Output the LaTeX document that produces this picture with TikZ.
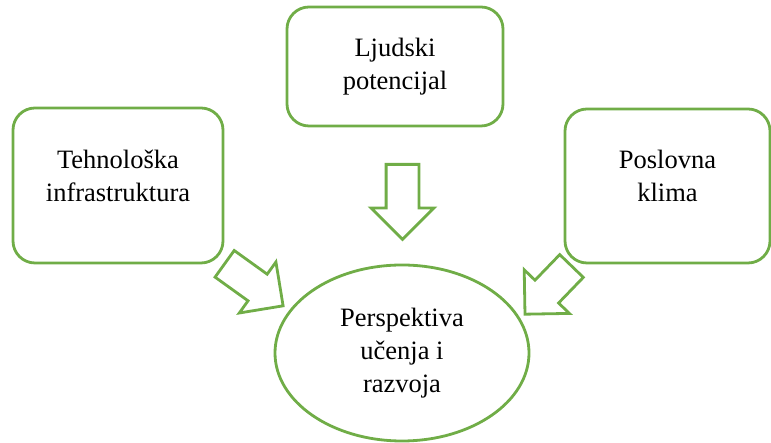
\documentclass[tikz,border=0pt]{standalone}
\definecolor{bscgreen}{RGB}{112,173,71}
\usepackage{fontspec}
\setmainfont{Liberation Serif}
\usetikzlibrary{shapes.arrows,shapes.geometric}

\begin{document}
\begin{tikzpicture}[x=1pt,y=1pt]

%
% Styles
%
\tikzstyle{area}   = [rectangle,rounded corners=22pt,draw=bscgreen,line width=2.8pt,fill=white,inner sep=0pt]
\tikzstyle{goal}   = [ellipse,draw=bscgreen,line width=2.8pt,fill=white,inner sep=0pt]
\tikzstyle{txt}    = [align=center,font=\fontsize{26.5}{33}\selectfont]
\tikzstyle{push}   = [single arrow,draw=bscgreen,line width=2.8pt,fill=white,inner xsep=0pt,
                      inner ysep=15pt,single arrow head extend=15pt,anchor=tail]

\useasboundingbox (0,0) rectangle (771,443);

\node[area,minimum width=216pt,minimum height=119pt] (ljud) at (395,376.5) {};
\node[area,minimum width=210pt,minimum height=155pt] (teh)  at (118,257.5) {};
\node[area,minimum width=205pt,minimum height=154pt] (pos)  at (667.5,257) {};
\node[goal,minimum width=254pt,minimum height=176pt] (ucen) at (402,90) {};

\node[txt] (ljudt) at (ljud.center) {Ljudski\\potencijal};
\node[txt] (teht)  at ([yshift=10pt]teh.center) {Tehnološka\\infrastruktura};
\node[txt] (post)  at ([yshift=10pt]pos.center) {Poslovna\\klima};
\node[txt] (ucent) at (ucen.center) {Perspektiva\\učenja i\\razvoja};

\node[push,minimum height=75pt,rotate=-90]   (a1) at (402.5,280) {};
\node[push,minimum height=72pt,rotate=-35.7] (a2) at (223.5,180) {};
\node[push,minimum height=67pt,rotate=-134]  (a3) at (572.5,178) {};

\end{tikzpicture}
\end{document}
